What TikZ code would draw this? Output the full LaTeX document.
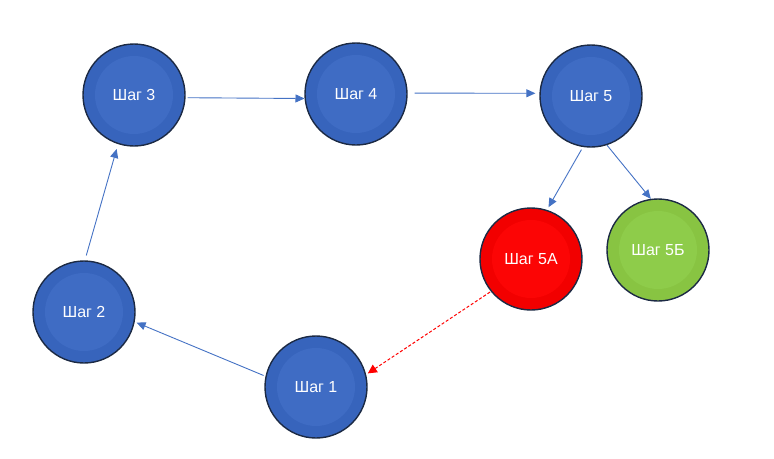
\documentclass[tikz,border=0pt]{standalone}
\usepackage{fontspec}
\newfontfamily\labfont{Liberation Sans}
\usetikzlibrary{arrows.meta}
\definecolor{bfill}{HTML}{3764BC}
\definecolor{binner}{HTML}{3F6CC4}
\definecolor{rfill}{HTML}{F20000}
\definecolor{rinner}{HTML}{FC0505}
\definecolor{gfill}{HTML}{88C442}
\definecolor{ginner}{HTML}{8ECC4A}
\definecolor{outl}{HTML}{1C2A44}
\definecolor{arrblue}{HTML}{4472C4}
\tikzset{
  stepnode/.style={circle, minimum size=102pt, inner sep=0pt, draw=outl, line width=1.4pt,
    fill=#1fill, text=white, font=\labfont\fontsize{16}{18}\selectfont,
    path picture={\fill[#1inner] (path picture bounding box.center) circle (39pt);}},
  arr/.style={draw=arrblue, line width=0.9pt, -{Triangle[length=9pt,width=8pt]}},
  darr/.style={draw=red, line width=1pt, dash pattern=on 3pt off 2pt, -{Triangle[length=9pt,width=9pt]}}
}
\begin{document}
\begin{tikzpicture}[x=1pt,y=-1pt]
\useasboundingbox (0,0) rectangle (774,458);
\node[stepnode=b] (n3) at (134,95) {Шаг 3};
\node[stepnode=b] (n4) at (356,94) {Шаг 4};
\node[stepnode=b] (n5) at (591,96) {Шаг 5};
\node[stepnode=r] (n5a) at (531,259) {Шаг 5А};
\node[stepnode=g] (n5b) at (658,250) {Шаг 5Б};
\node[stepnode=b] (n2) at (84,312) {Шаг 2};
\node[stepnode=b] (n1) at (316,387) {Шаг 1};
\draw[arr, shorten <=2pt] (n3.-3) -- (n4.-175);
\draw[arr, shorten <=7pt, shorten >=4pt] (n4.1) -- (n5.177);
\draw[arr, shorten <=3pt, shorten >=3pt] (n5.-99) -- (n5a.72);
\draw[arr] (n5.-72) -- (n5b.98);
\draw[arr, shorten <=2pt, shorten >=2pt] (n1.168) -- (n2.-11);
\draw[arr, shorten <=5pt, shorten >=5pt] (n2.89) -- (n3.-108);
\draw[darr, shorten <=1pt, shorten >=2pt] (n5a.-141) -- (n1.14);
\end{tikzpicture}
\end{document}
